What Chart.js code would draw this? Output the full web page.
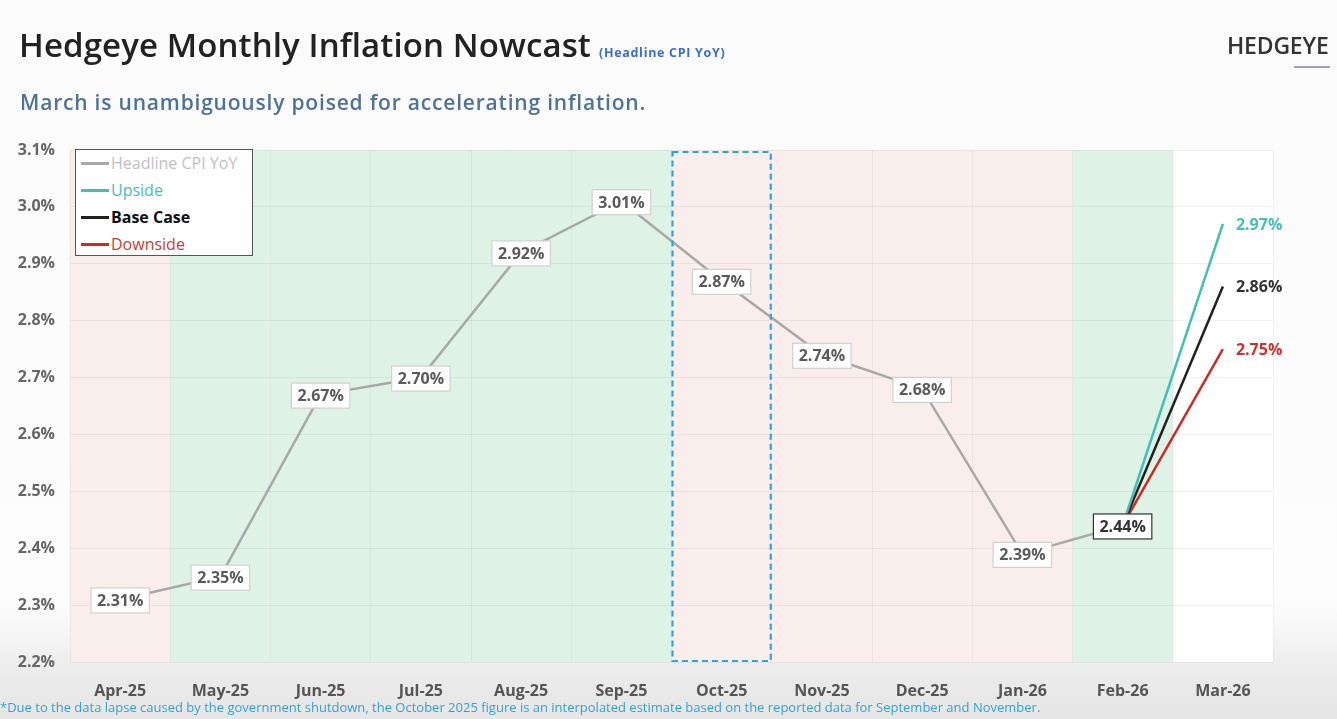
<!DOCTYPE html>
<html><head><meta charset="utf-8">
<script src="https://cdn.jsdelivr.net/npm/chart.js@4"></script>
<style>
html,body{margin:0;padding:0;}
body{width:1337px;height:719px;overflow:hidden;position:relative;font-family:"Open Sans",sans-serif;
background:linear-gradient(to bottom,#fbfbfb 0px,#fdfdfd 600px,#eaeaea 680px,#e6e6e6 719px);}
#wrap{position:absolute;left:0;top:0;width:1337px;height:719px;}
#title{position:absolute;left:19px;top:22px;font-size:33px;font-weight:600;color:#222;letter-spacing:0.1px;white-space:nowrap;}
#title span{font-size:12.5px;color:#3a6cd6;font-weight:700;margin-left:8px;letter-spacing:0.7px;}
#sub{position:absolute;left:20px;top:88px;font-size:21px;font-weight:600;color:#4f7299;white-space:nowrap;letter-spacing:0.8px;}
#logo{position:absolute;left:1227px;top:29px;font-size:23px;font-weight:600;color:#333;letter-spacing:-0.2px;font-family:"Open Sans",sans-serif;}
#logoline{position:absolute;left:1294px;top:66px;width:36px;height:2px;background:#a0a2b8;}
#legend{position:absolute;left:75px;top:149px;width:178px;height:107px;background:#fff;border:1.5px solid #555;box-sizing:border-box;}
.li{position:absolute;left:5px;height:20px;display:flex;align-items:center;font-size:16px;white-space:nowrap;}
.li i{display:inline-block;width:28px;height:3px;margin-right:2px;}
#foot{position:absolute;left:0;top:698px;font-size:13px;color:#2ea3d8;font-family:"Liberation Sans Narrow","Open Sans",sans-serif;white-space:nowrap;letter-spacing:0px;}
</style></head>
<body>
<div id="wrap"><canvas id="c" width="1337" height="719"></canvas></div>
<div id="title">Hedgeye Monthly Inflation Nowcast<span>(Headline CPI YoY)</span></div>
<div id="sub">March is unambiguously poised for accelerating inflation.</div>
<div id="logo">HEDGEYE</div><div id="logoline"></div>
<div id="legend"></div>
<div id="foot">*Due to the data lapse caused by the government shutdown, the October 2025 figure is an interpolated estimate based on the reported data for September and November.</div>
<script>
const months = ['Apr-25','May-25','Jun-25','Jul-25','Aug-25','Sep-25','Oct-25','Nov-25','Dec-25','Jan-26','Feb-26','Mar-26'];
const headline = [2.31,2.35,2.67,2.70,2.92,3.01,2.87,2.74,2.68,2.39,2.44,null];
const upside   = [null,null,null,null,null,null,null,null,null,null,2.44,2.97];
const baseCase = [null,null,null,null,null,null,null,null,null,null,2.44,2.86];
const downside = [null,null,null,null,null,null,null,null,null,null,2.44,2.75];
const bandTone = ['pink','green','green','green','green','green','pink','pink','pink','pink','green','none'];
const seriesNames = ['Headline CPI YoY','Upside','Base Case','Downside'];
const yTicks = [2.2,2.3,2.4,2.5,2.6,2.7,2.8,2.9,3.0,3.1];
const highlightMonth = 'Oct-25';
const latestMonth = 'Feb-26';

const colors = {head:'#a8a8a8', up:'#3fc0b6', base:'#222222', down:'#cc2b26'};
const labelColors = ['#c2c2c2','#43c2b8','#111','#d23a33'];

const lg = document.getElementById('legend');
const lineCols=[colors.head,colors.up,colors.base,colors.down];
seriesNames.forEach((n,i)=>{
  const d=document.createElement('div');d.className='li';d.style.top=(3+i*27)+'px';
  d.innerHTML='<i style="background:'+lineCols[i]+'"></i><span style="color:'+labelColors[i]+';font-weight:'+(i===2?700:400)+'">'+n+'</span>';
  lg.appendChild(d);
});

const bandPlugin={id:'bands',
 beforeDraw(chart){
  const {ctx,chartArea:a,scales:{x}}=chart;
  const half=(x.getPixelForValue(1)-x.getPixelForValue(0))/2;
  ctx.save();
  ctx.fillStyle='#ffffff';ctx.fillRect(a.left,a.top,a.right-a.left,a.bottom-a.top);
  bandTone.forEach((t,i)=>{
    if(t==='none')return;
    const c=x.getPixelForValue(i);
    ctx.fillStyle=t==='pink'?'#f9eeeb':'#def2e6';
    ctx.fillRect(c-half,a.top,half*2,a.bottom-a.top);
  });
  ctx.restore();
 },
 afterDatasetsDraw(chart){
  const {ctx,chartArea:a,scales:{x,y}}=chart;
  const half=(x.getPixelForValue(1)-x.getPixelForValue(0))/2;
  const oi=months.indexOf(highlightMonth);
  const oc=x.getPixelForValue(oi);
  ctx.save();
  ctx.strokeStyle='#2aa6df';ctx.lineWidth=2.2;ctx.setLineDash([6,4]);
  ctx.strokeRect(oc-half+1,a.top+2,half*2-2,a.bottom-a.top-3);
  ctx.restore();
  ctx.save();
  ctx.font='bold 16px "Open Sans", sans-serif';
  ctx.textAlign='center';ctx.textBaseline='middle';
  const li=months.indexOf(latestMonth);
  headline.forEach((v,i)=>{
    if(v==null)return;
    const px=x.getPixelForValue(i), py=y.getPixelForValue(v);
    const t=v.toFixed(2)+'%';
    const w=ctx.measureText(t).width+12, h=25;
    const cy=py+1;
    ctx.fillStyle='#fff';ctx.fillRect(px-w/2,cy-h/2,w,h);
    ctx.lineWidth=1.2;ctx.strokeStyle=i===li?'#333':'#d0d0d0';
    ctx.strokeRect(px-w/2,cy-h/2,w,h);
    ctx.fillStyle=i===li?'#333':'#5a5a5a';
    ctx.fillText(t,px,cy+1);
  });
  const ends=[[upside,'#45c1b7'],[baseCase,'#333'],[downside,'#d0302b']];
  ctx.textAlign='left';
  const last=months.length-1;
  ends.forEach(([arr,c])=>{
    const v=arr[last];
    ctx.fillStyle=c;
    ctx.fillText(v.toFixed(2)+'%',x.getPixelForValue(last)+13,y.getPixelForValue(v)+1);
  });
  ctx.restore();
 }
};

new Chart(document.getElementById('c'),{
 type:'line',
 data:{labels:months,datasets:[
  {label:seriesNames[0],data:headline,borderColor:colors.head,borderWidth:2.5,pointRadius:0,tension:0},
  {label:seriesNames[1],data:upside,borderColor:colors.up,borderWidth:2.5,pointRadius:0,tension:0},
  {label:seriesNames[2],data:baseCase,borderColor:colors.base,borderWidth:2.5,pointRadius:0,tension:0},
  {label:seriesNames[3],data:downside,borderColor:colors.down,borderWidth:2.5,pointRadius:0,tension:0}
 ]},
 options:{responsive:false,animation:false,devicePixelRatio:1,
  layout:{padding:{top:150,right:64,left:10,bottom:0}},
  plugins:{legend:{display:false},tooltip:{enabled:false}},
  scales:{
   x:{offset:true,grid:{offset:true,color:'rgba(0,0,0,0.045)',drawTicks:false},border:{display:false},
      ticks:{padding:20,color:'#555',font:{family:'"Liberation Sans Narrow","Open Sans",sans-serif',size:16,weight:'bold'}},
      afterFit(s){s.height=57;}},
   y:{min:2.2,max:3.1,afterBuildTicks(s){s.ticks=yTicks.map(v=>({value:v}));},
      grid:{color:'rgba(0,0,0,0.05)',drawTicks:false},border:{display:false},
      ticks:{padding:15,color:'#666',font:{family:'"Open Sans",sans-serif',size:16,weight:'bold'},callback:v=>Number(v).toFixed(1)+'%'},
      afterFit(s){s.width=60;}}
  }
 },
 plugins:[bandPlugin]
});
</script>
</body></html>
